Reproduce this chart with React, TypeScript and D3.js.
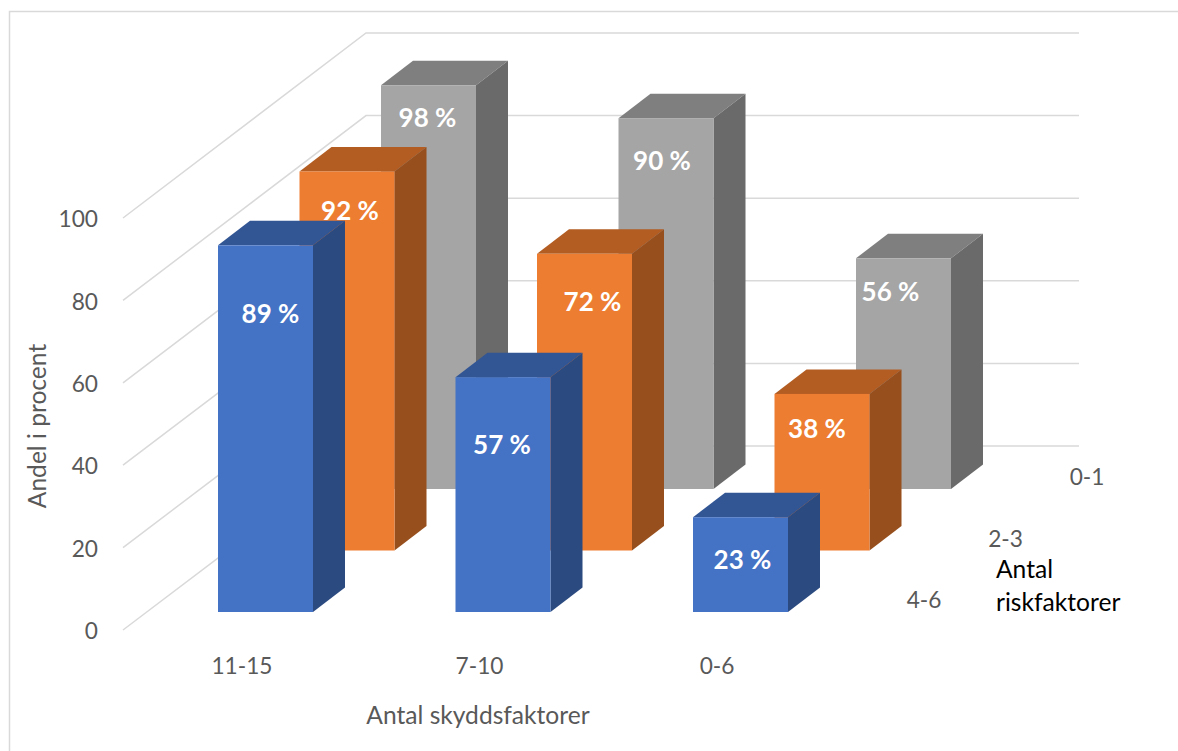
import React from "react";
import * as d3 from "d3";

// Share of respondents (%) by protective factors (x) and risk factors (depth)
const protectiveFactors = ["11-15", "7-10", "0-6"];
const riskFactors = ["4-6", "2-3", "0-1"];
const valuesLowRisk = [98, 90, 56];
const valuesMidRisk = [92, 72, 38];
const valuesHighRisk = [89, 57, 23];
const valueTicks = [0, 20, 40, 60, 80, 100];
const yAxisTitle = "Andel i procent";
const xAxisTitle = "Antal skyddsfaktorer";
const depthAxisTitle = ["Antal", "riskfaktorer"];

const WIDTH = 1178;
const HEIGHT = 751;
const FONT = "Lato, 'Noto Sans', sans-serif";
const TEXT_GREY = "#595959";
const GRID = "#d9d9d9";

// Oblique projection: front floor at the blue row, each row stepping back and to the right
const xCat = d3.scalePoint<string>().domain(protectiveFactors).range([218, 693]);
const depthX = d3.scalePoint<string>().domain(riskFactors).range([0, 163]);
const depthY = d3.scalePoint<string>().domain(riskFactors).range([612, 489]);
const barHeight = d3.scaleLinear().domain([0, 100]).range([0, 412]);
const BAR_W = 95;
const SIDE_DX = 32;
const SIDE_DY = 24.5;

const facePalette: Record<string, { front: string; top: string; side: string }> = {
  "4-6": { front: "#4472c4", top: "#325594", side: "#2b4a80" },
  "2-3": { front: "#ed7d31", top: "#b35d22", side: "#974f1d" },
  "0-1": { front: "#a5a5a5", top: "#7f7f7f", side: "#6a6a6a" },
};

// Hand-placed data label offsets: [dx from bar centre, dy below bar top]
const labelPlacement: Record<string, [number, number][]> = {
  "0-1": [[-1, 32], [-4, 42], [-13, 33]],
  "2-3": [[3, 39], [8, 48], [-5, 35]],
  "4-6": [[5, 68], [-1, 67], [2, 42]],
};

const rowValues: Record<string, number[]> = {
  "0-1": valuesLowRisk,
  "2-3": valuesMidRisk,
  "4-6": valuesHighRisk,
};

// Wall geometry for the gridlines
const wallFrontX = 123;
const wallBackX = 366;
const wallRightX = 1079;
const wallFrontY = d3.scaleLinear().domain([0, 100]).range([630, 218]);
const wallBackY = d3.scaleLinear().domain([0, 100]).range([446, 33]);

const gridLine = d3.line<[number, number]>();
const polygon = (pts: [number, number][]) => gridLine(pts) + "Z";

function Bar({ cat, row, catIndex }: { cat: string; row: string; catIndex: number }) {
  const value = rowValues[row][catIndex];
  const x0 = xCat(cat)! + depthX(row)!;
  const yBase = depthY(row)!;
  const yTop = yBase - barHeight(value);
  const x1 = x0 + BAR_W;
  const c = facePalette[row];
  const [dx, dy] = labelPlacement[row][catIndex];
  return (
    <g>
      <path
        d={polygon([[x0, yTop], [x0 + SIDE_DX, yTop - SIDE_DY], [x1 + SIDE_DX, yTop - SIDE_DY], [x1, yTop]])}
        fill={c.top}
      />
      <path
        d={polygon([[x1, yTop], [x1 + SIDE_DX, yTop - SIDE_DY], [x1 + SIDE_DX, yBase - SIDE_DY], [x1, yBase]])}
        fill={c.side}
      />
      <rect x={x0} y={yTop} width={BAR_W} height={yBase - yTop} fill={c.front} />
      <text
        x={x0 + BAR_W / 2 + dx}
        y={yTop + dy}
        dy="0.36em"
        textAnchor="middle"
        fontFamily={FONT}
        fontWeight={700}
        fontSize={26}
        fill="#ffffff"
      >
        {`${value} %`}
      </text>
    </g>
  );
}

export default function App() {
  const tickStyle = { fontFamily: FONT, fontSize: 22.7, fill: TEXT_GREY };
  const titleStyle = { fontFamily: FONT, fontSize: 24.6, fill: TEXT_GREY };
  const backToFront = [...riskFactors].reverse();
  return (
    <svg
      width={WIDTH}
      height={HEIGHT}
      viewBox={`0 0 ${WIDTH} ${HEIGHT}`}
      style={{ position: "absolute", left: 0, top: 0, background: "#fff" }}
    >
      {/* Chart frame: only the top and left edges fall inside the view */}
      <path d={`M9.5 ${HEIGHT}V11.5H${WIDTH}`} fill="none" stroke={GRID} strokeWidth={1.5} />

      {valueTicks.map((t) => (
        <g key={t}>
          <path
            d={gridLine([
              [wallFrontX, wallFrontY(t)],
              [wallBackX, wallBackY(t)],
              [wallRightX, wallBackY(t)],
            ])!}
            fill="none"
            stroke={GRID}
            strokeWidth={1.5}
          />
          <text x={98} y={wallFrontY(t) + 1} dy="0.36em" textAnchor="end" {...tickStyle}>
            {t}
          </text>
        </g>
      ))}

      {backToFront.map((row) =>
        protectiveFactors.map((cat, i) => <Bar key={row + cat} cat={cat} row={row} catIndex={i} />)
      )}

      {protectiveFactors.map((cat) => (
        <text key={cat} x={xCat(cat)! + 24} y={666} dy="0.36em" textAnchor="middle" {...tickStyle}>
          {cat}
        </text>
      ))}

      {riskFactors.map((row) => (
        <text
          key={row}
          x={924 + depthX(row)!}
          y={600 - (612 - depthY(row)!)}
          dy="0.36em"
          textAnchor="middle"
          {...tickStyle}
        >
          {row}
        </text>
      ))}

      <text x={478} y={715} dy="0.36em" textAnchor="middle" {...titleStyle}>
        {xAxisTitle}
      </text>
      <text
        transform="translate(37,426) rotate(-90)"
        dy="0.36em"
        textAnchor="middle"
        {...titleStyle}
      >
        {yAxisTitle}
      </text>

      {depthAxisTitle.map((line, i) => (
        <text key={line} x={996} y={569 + i * 33} dy="0.36em" fontFamily={FONT} fontSize={24.6} fill="#000">
          {line}
        </text>
      ))}
    </svg>
  );
}
